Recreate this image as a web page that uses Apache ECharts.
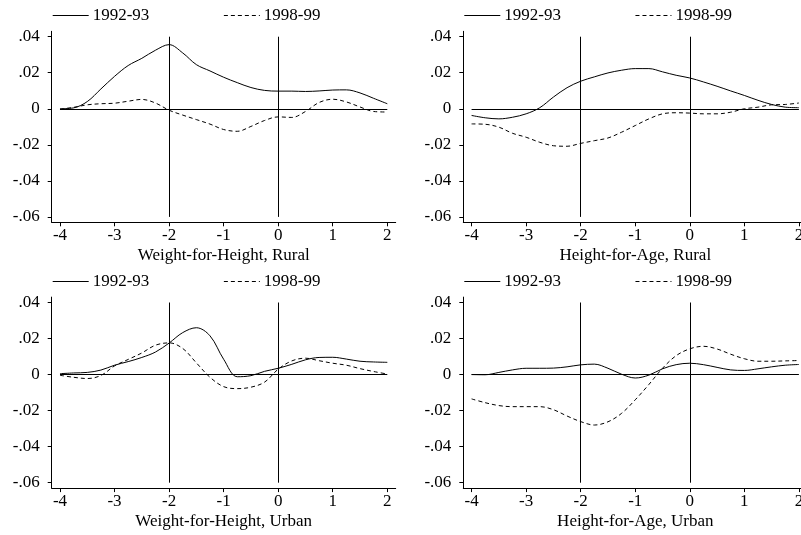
<!DOCTYPE html>
<html>
<head>
<meta charset="utf-8">
<script src="https://cdn.jsdelivr.net/npm/echarts@6/dist/echarts.min.js"></script>
<style>
html,body{margin:0;padding:0;background:#fff;}
#c{width:801px;height:535px;}
</style>
</head>
<body>
<div id="c"></div>
<script>
// ---- data ----
const xs = [-4, -3.75, -3.5, -3.25, -3, -2.75, -2.5, -2.25, -2, -1.75, -1.5, -1.25, -1, -0.75, -0.5, -0.25, 0, 0.25, 0.5, 0.75, 1, 1.25, 1.5, 1.75, 2];
const seriesNames = ['1992-93', '1998-99'];
const panelTitles = ['Weight-for-Height, Rural', 'Height-for-Age, Rural', 'Weight-for-Height, Urban', 'Height-for-Age, Urban'];
const xTicks = [-4, -3, -2, -1, 0, 1, 2];
const yTicks = [-0.06, -0.04, -0.02, 0, 0.02, 0.04];
const refX = [-2, 0];

const whRural9293 = [0.0, 0.0005, 0.004, 0.011, 0.018, 0.024, 0.028, 0.0325, 0.0356, 0.031, 0.0245, 0.021, 0.0175, 0.0145, 0.0118, 0.0102, 0.0098, 0.0098, 0.0096, 0.0099, 0.0104, 0.0105, 0.0088, 0.0058, 0.0028];
const whRural9899 = [-0.0002, 0.0008, 0.0022, 0.0028, 0.0031, 0.0042, 0.0052, 0.0032, -0.0008, -0.0035, -0.006, -0.0085, -0.0115, -0.0125, -0.0098, -0.0065, -0.0045, -0.0048, -0.0015, 0.0035, 0.0053, 0.0038, 0.001, -0.0015, -0.0018];
const haRural9293 = [-0.0037, -0.005, -0.0056, -0.0047, -0.0028, 0.0006, 0.0065, 0.0117, 0.0153, 0.0177, 0.0199, 0.0214, 0.0223, 0.0223, 0.0205, 0.0186, 0.0171, 0.0149, 0.0125, 0.0099, 0.0074, 0.0047, 0.0024, 0.0009, 0.0006];
const haRural9899 = [-0.0084, -0.0086, -0.0102, -0.0136, -0.0158, -0.0186, -0.0205, -0.0208, -0.0192, -0.0177, -0.0162, -0.013, -0.0093, -0.0056, -0.0028, -0.0022, -0.0024, -0.0028, -0.0028, -0.0019, 0.0, 0.0009, 0.0022, 0.0024, 0.0032];
const whUrban9293 = [0.0005, 0.0009, 0.0012, 0.0025, 0.0052, 0.0072, 0.0095, 0.0125, 0.0175, 0.0233, 0.026, 0.0215, 0.0085, -0.0012, -0.0006, 0.0018, 0.0035, 0.0057, 0.0082, 0.0095, 0.0096, 0.0086, 0.0074, 0.007, 0.0068];
const whUrban9899 = [-0.0004, -0.0015, -0.0022, -0.0005, 0.0048, 0.0084, 0.012, 0.0163, 0.0176, 0.0145, 0.0065, -0.0015, -0.0067, -0.0078, -0.007, -0.0042, 0.003, 0.0076, 0.0091, 0.0077, 0.0063, 0.0052, 0.0033, 0.0017, 0.0003];
const haUrban9293 = [0.0, -0.0001, 0.0012, 0.0026, 0.0035, 0.0035, 0.0036, 0.0043, 0.0054, 0.0058, 0.0035, 0.0002, -0.0019, -0.0003, 0.0032, 0.0055, 0.0063, 0.0055, 0.004, 0.0026, 0.0023, 0.0032, 0.0043, 0.0052, 0.0056];
const haUrban9899 = [-0.0135, -0.0156, -0.0172, -0.0178, -0.0178, -0.0178, -0.0195, -0.023, -0.0261, -0.028, -0.0262, -0.0215, -0.014, -0.0055, 0.0035, 0.0105, 0.0143, 0.0157, 0.0142, 0.0113, 0.0088, 0.0074, 0.0074, 0.0076, 0.0078];

const panelData = [
  [whRural9293, whRural9899],
  [haRural9293, haRural9899],
  [whUrban9293, whUrban9899],
  [haUrban9293, haUrban9899]
];

// ---- layout ----
const FONT = 'Liberation Serif';
const FS = 17;
const gridBoxes = [
  {left: 51.7, top: 31.3},
  {left: 463.3, top: 31.3},
  {left: 51.7, top: 297.1},
  {left: 463.3, top: 297.1}
];
const GW = 344, GH = 191;
const legendTops = [7, 273];

function yFmt(v) {
  if (Math.abs(v) < 1e-9) return '0';
  return (v < 0 ? '-' : '') + Math.abs(v).toFixed(2).replace(/^0/, '');
}
function pairs(ys) { return xs.map((x, i) => [x, ys[i]]); }

const grids = [], xAxes = [], yAxes = [], series = [], legends = [];
gridBoxes.forEach((g, i) => {
  grids.push({left: g.left, top: g.top, width: GW, height: GH, containLabel: false, outerBoundsMode: 'none'});
  xAxes.push({
    type: 'value', gridIndex: i, min: -4.152, max: 2.154,
    name: panelTitles[i], nameLocation: 'middle', nameGap: 25,
    nameTextStyle: {fontFamily: FONT, fontSize: FS, color: '#000'},
    axisLine: {show: true, onZero: false, lineStyle: {color: '#000', width: 1}},
    axisTick: {show: true, length: 4, customValues: xTicks, lineStyle: {color: '#000'}},
    axisLabel: {customValues: xTicks, margin: 5, fontFamily: FONT, fontSize: FS, color: '#000',
      formatter: v => String(v)},
    splitLine: {show: false}
  });
  yAxes.push({
    type: 'value', gridIndex: i, min: -0.063, max: 0.043,
    axisLine: {show: true, onZero: false, lineStyle: {color: '#000', width: 1}},
    axisTick: {show: true, length: 4, customValues: yTicks, lineStyle: {color: '#000'}},
    axisLabel: {customValues: yTicks, margin: 12, fontFamily: FONT, fontSize: FS, color: '#000',
      formatter: yFmt},
    splitLine: {show: false}
  });
  const refLines = refX.map(x => [{coord: [x, yTicks[yTicks.length - 1]]}, {coord: [x, yTicks[0]]}]);
  refLines.push([{coord: [xTicks[0], 0]}, {coord: [xTicks[xTicks.length - 1], 0]}]);
  series.push({
    name: seriesNames[0], type: 'line', xAxisIndex: i, yAxisIndex: i,
    data: pairs(panelData[i][0]), smooth: 0.35, symbol: 'none', silent: true,
    lineStyle: {color: '#000', width: 1, type: 'solid'}, itemStyle: {color: '#000'},
    markLine: {silent: true, symbol: 'none', label: {show: false},
      lineStyle: {color: '#000', width: 1, type: 'solid'}, data: refLines},
    z: 3
  });
  series.push({
    name: seriesNames[1], type: 'line', xAxisIndex: i, yAxisIndex: i,
    data: pairs(panelData[i][1]), smooth: 0.35, symbol: 'none', silent: true,
    lineStyle: {color: '#000', width: 1, type: [4, 3]}, itemStyle: {color: '#000'},
    z: 3
  });
  legends.push({
    data: seriesNames, left: g.left + 0.5, top: legendTops[i < 2 ? 0 : 1],
    padding: 0,
    orient: 'horizontal', itemWidth: 36, itemHeight: 14, itemGap: 74,
    selectedMode: false,
    itemStyle: {opacity: 0},
    lineStyle: {width: 1},
    textStyle: {fontFamily: FONT, fontSize: FS, color: '#000', padding: [0, 0, 0, -1]}
  });
});

const chart = echarts.init(document.getElementById('c'), null, {renderer: 'canvas'});
chart.setOption({
  animation: false,
  backgroundColor: '#fff',
  textStyle: {fontFamily: FONT},
  grid: grids, xAxis: xAxes, yAxis: yAxes, series: series, legend: legends
});
</script>
</body>
</html>
